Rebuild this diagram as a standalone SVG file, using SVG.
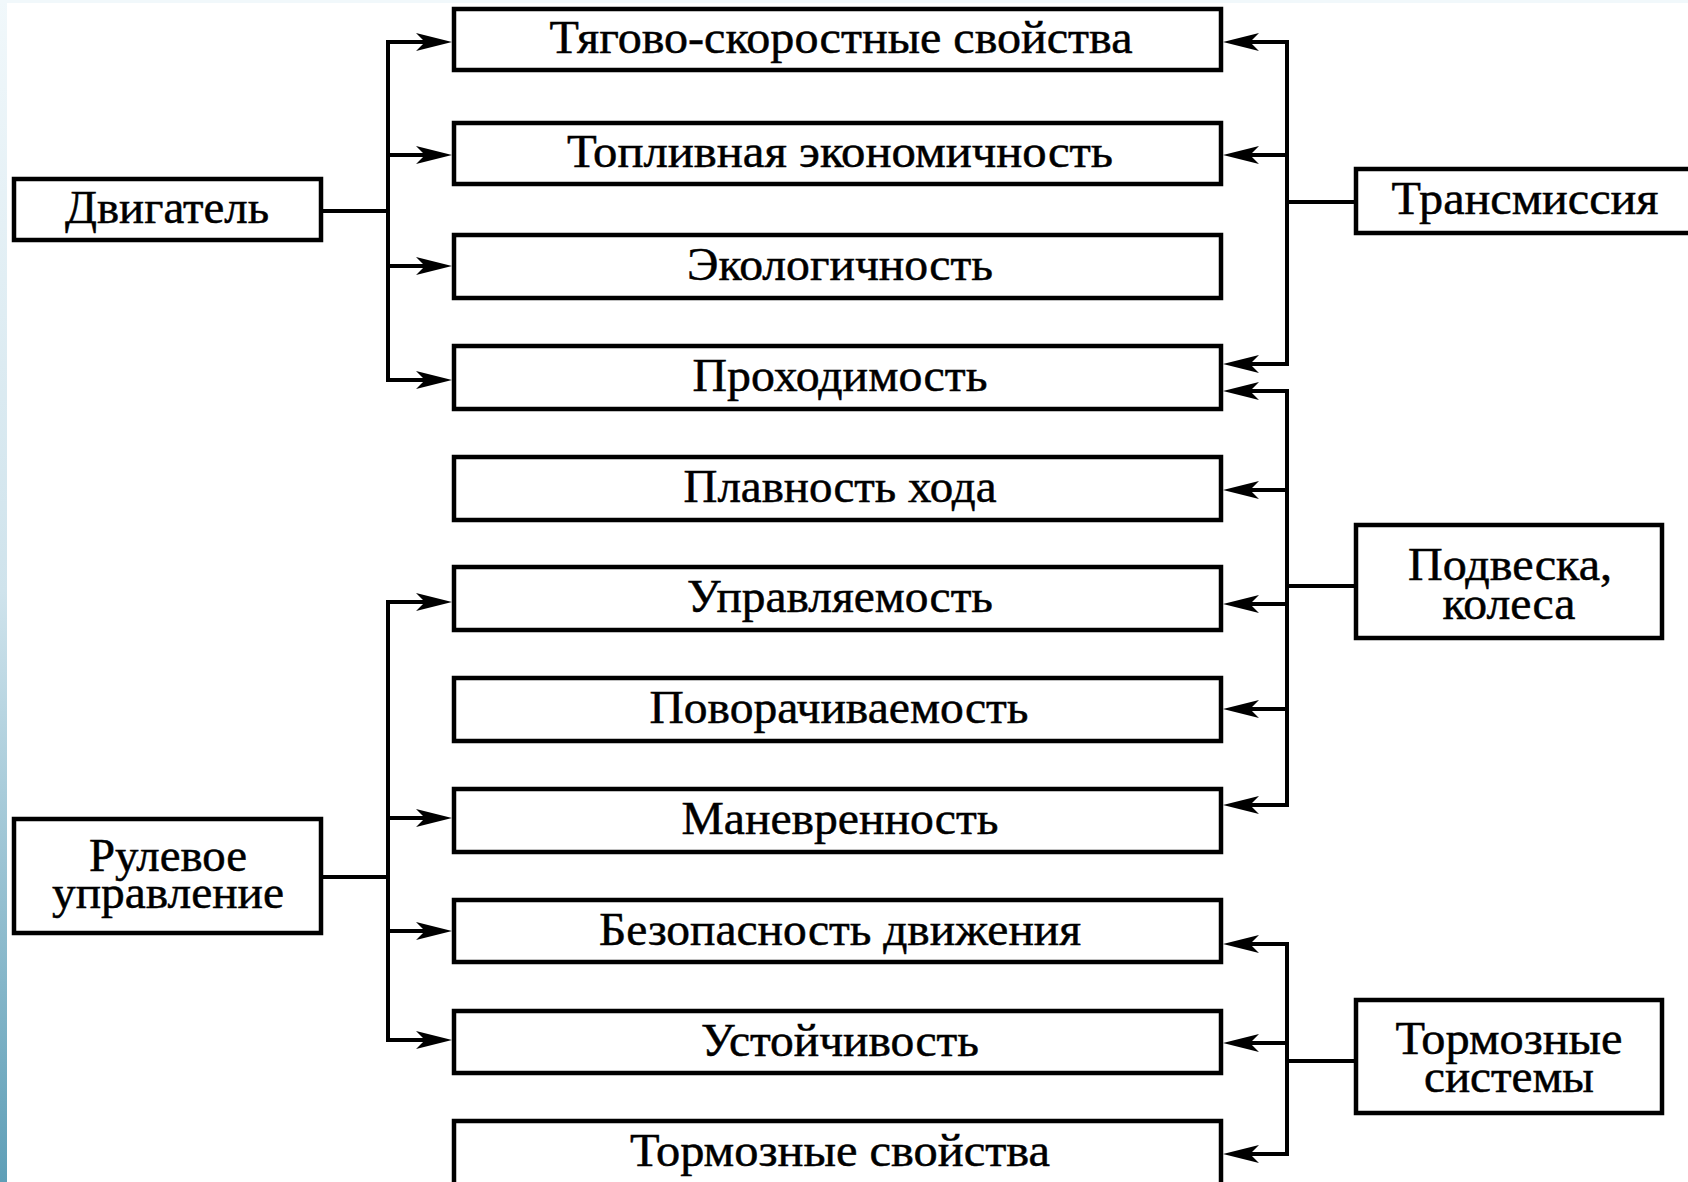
<svg xmlns="http://www.w3.org/2000/svg" width="1688" height="1182" viewBox="0 0 1688 1182">
<style>
.box{fill:#fff;stroke:#000;stroke-width:4.5}
.t{font-family:"Liberation Serif","Times New Roman",serif;font-size:46px;fill:#000;stroke:#000;stroke-width:0.5;text-anchor:middle}
.c{fill:none;stroke:#000;stroke-width:4;stroke-linecap:square}
.a{fill:none;stroke:#000;stroke-width:4;marker-end:url(#ah)}
</style>
<defs>
<linearGradient id="edge" x1="0" y1="0" x2="0" y2="1">
<stop offset="0" stop-color="#f1f8fb"/>
<stop offset="0.5" stop-color="#cfe3ec"/>
<stop offset="1" stop-color="#5f9fb7"/>
</linearGradient>
<marker id="ah" viewBox="0 0 36 18" refX="10" refY="9" markerWidth="36" markerHeight="18" markerUnits="userSpaceOnUse" orient="auto">
<path d="M0,0 L36,9 L0,18 L9,9 Z" fill="#000"/>
</marker>
</defs>
<rect x="0" y="0" width="1688" height="1182" fill="#fff"/>
<rect x="0" y="0" width="7" height="1182" fill="url(#edge)"/>
<rect x="0" y="0" width="1688" height="3" fill="#f1f8fb"/>

<g id="connectors">
<path class="c" d="M321,211 H388 M388,42 V380"/>
<path class="a" d="M388,42 H426"/>
<path class="a" d="M388,155 H426"/>
<path class="a" d="M388,266 H426"/>
<path class="a" d="M388,380 H426"/>
<path class="c" d="M321,877 H388 M388,602 V1040"/>
<path class="a" d="M388,602 H426"/>
<path class="a" d="M388,818 H426"/>
<path class="a" d="M388,931 H426"/>
<path class="a" d="M388,1040 H426"/>
<path class="c" d="M1356,202 H1287 M1287,42 V364"/>
<path class="a" d="M1287,42 H1249"/>
<path class="a" d="M1287,155 H1249"/>
<path class="a" d="M1287,364 H1249"/>
<path class="c" d="M1356,586 H1287 M1287,391 V805"/>
<path class="a" d="M1287,391 H1249"/>
<path class="a" d="M1287,490 H1249"/>
<path class="a" d="M1287,604 H1249"/>
<path class="a" d="M1287,709 H1249"/>
<path class="a" d="M1287,805 H1249"/>
<path class="c" d="M1356,1061 H1287 M1287,944 V1154"/>
<path class="a" d="M1287,944 H1249"/>
<path class="a" d="M1287,1043 H1249"/>
<path class="a" d="M1287,1154 H1249"/>
</g>

<g id="n-dvigatel"><rect class="box" x="14" y="179" width="307" height="61"/><text class="t" x="167" y="223" textLength="204" lengthAdjust="spacingAndGlyphs">Двигатель</text></g>
<g id="n-rulevoe"><rect class="box" x="14" y="819" width="307" height="114"/><text class="t" x="168" y="871" textLength="158" lengthAdjust="spacingAndGlyphs">Рулевое</text><text class="t" x="168" y="908" textLength="232" lengthAdjust="spacingAndGlyphs">управление</text></g>
<g id="n-transmissia"><rect class="box" x="1356" y="169" width="360" height="64"/><text class="t" x="1525" y="214" textLength="267" lengthAdjust="spacingAndGlyphs">Трансмиссия</text></g>
<g id="n-podveska"><rect class="box" x="1356" y="525" width="306" height="113"/><text class="t" x="1510" y="580" textLength="204" lengthAdjust="spacingAndGlyphs">Подвеска,</text><text class="t" x="1509" y="619" textLength="133" lengthAdjust="spacingAndGlyphs">колеса</text></g>
<g id="n-tormoz"><rect class="box" x="1356" y="1000" width="306" height="113"/><text class="t" x="1509" y="1054" textLength="227" lengthAdjust="spacingAndGlyphs">Тормозные</text><text class="t" x="1509" y="1092" textLength="170" lengthAdjust="spacingAndGlyphs">системы</text></g>

<g id="p1"><rect class="box" x="454" y="9" width="767" height="61"/><text class="t" x="841" y="53" textLength="583" lengthAdjust="spacingAndGlyphs">Тягово-скоростные свойства</text></g>
<g id="p2"><rect class="box" x="454" y="123" width="767" height="61"/><text class="t" x="840" y="167" textLength="546" lengthAdjust="spacingAndGlyphs">Топливная экономичность</text></g>
<g id="p3"><rect class="box" x="454" y="235" width="767" height="63"/><text class="t" x="840" y="280" textLength="306" lengthAdjust="spacingAndGlyphs">Экологичность</text></g>
<g id="p4"><rect class="box" x="454" y="346" width="767" height="63"/><text class="t" x="840" y="391" textLength="295" lengthAdjust="spacingAndGlyphs">Проходимость</text></g>
<g id="p5"><rect class="box" x="454" y="457" width="767" height="63"/><text class="t" x="840" y="502" textLength="313" lengthAdjust="spacingAndGlyphs">Плавность хода</text></g>
<g id="p6"><rect class="box" x="454" y="567" width="767" height="63"/><text class="t" x="840" y="612" textLength="306" lengthAdjust="spacingAndGlyphs">Управляемость</text></g>
<g id="p7"><rect class="box" x="454" y="678" width="767" height="63"/><text class="t" x="839" y="723" textLength="379" lengthAdjust="spacingAndGlyphs">Поворачиваемость</text></g>
<g id="p8"><rect class="box" x="454" y="789" width="767" height="63"/><text class="t" x="840" y="834" textLength="317" lengthAdjust="spacingAndGlyphs">Маневренность</text></g>
<g id="p9"><rect class="box" x="454" y="900" width="767" height="62"/><text class="t" x="840" y="945" textLength="482" lengthAdjust="spacingAndGlyphs">Безопасность движения</text></g>
<g id="p10"><rect class="box" x="454" y="1011" width="767" height="62"/><text class="t" x="840" y="1056" textLength="278" lengthAdjust="spacingAndGlyphs">Устойчивость</text></g>
<g id="p11"><rect class="box" x="454" y="1121" width="767" height="70"/><text class="t" x="840" y="1166" textLength="420" lengthAdjust="spacingAndGlyphs">Тормозные свойства</text></g>
</svg>
